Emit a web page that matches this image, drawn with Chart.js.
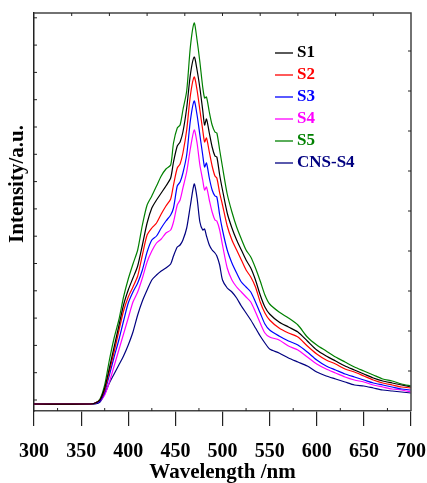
<!DOCTYPE html>
<html>
<head>
<meta charset="utf-8">
<script src="https://cdn.jsdelivr.net/npm/chart.js@4.4.1/dist/chart.umd.min.js"></script>
<style>
    html, body { margin: 0; padding: 0; background: #fff; }
    #wrap { width: 427px; height: 483px; }
</style>
</head>
<body>
<div id="wrap"><canvas id="pl" width="427" height="483"></canvas></div>
<script>
// Wavelength grid (nm)
const wavelength = [300, 360, 365, 370, 375, 380, 385, 390, 395, 400, 405, 410, 415, 420, 425, 430, 435, 440, 445, 448,
    452, 455, 458, 462, 466, 470, 473, 476, 479, 481, 483, 486, 489, 492, 494, 497, 500, 505, 510, 515,
    520, 525, 530, 535, 540, 545, 550, 560, 570, 580, 590, 600, 610, 620, 630, 640, 650, 660, 670, 680, 690, 700];

// PL intensity (a.u.)
const s1 = [7, 7, 8, 11, 23, 43, 64, 85, 106, 121, 133, 145, 166, 188, 203, 211, 218, 225, 233, 249,
    265, 269, 279, 303, 337, 354, 341, 323, 301, 286, 292, 278, 264, 255, 254, 236, 221, 198, 183, 171,
    161, 151, 143, 131, 116, 104, 97, 89, 84, 79, 70, 61, 55, 50, 45, 41, 37, 33, 30, 28, 26, 24];
const s2 = [7, 7, 8, 11, 21, 40, 59, 80, 100, 114, 124, 135, 156, 176, 183, 188, 197, 205, 212, 226,
    243, 247, 258, 281, 316, 334, 321, 301, 281, 269, 273, 259, 245, 235, 233, 218, 206, 185, 171, 161,
    151, 141, 134, 124, 109, 98, 91, 83, 78, 74, 65, 57, 51, 47, 42, 39, 35, 31, 28, 26, 24, 23];
const s3 = [7, 7, 8, 10, 19, 36, 54, 71, 90, 108, 119, 128, 141, 159, 171, 175, 183, 190, 196, 203,
    225, 229, 238, 256, 291, 310, 296, 276, 256, 244, 248, 233, 221, 215, 214, 196, 181, 161, 148, 138,
    129, 124, 119, 109, 98, 87, 81, 75, 70, 66, 59, 51, 45, 41, 37, 34, 31, 28, 26, 24, 22, 21];
const s4 = [7, 7, 8, 10, 16, 29, 45, 61, 77, 93, 109, 119, 133, 149, 160, 168, 172, 178, 181, 189,
    206, 211, 223, 239, 263, 281, 268, 246, 231, 221, 224, 211, 199, 191, 190, 181, 166, 143, 131, 124,
    119, 114, 109, 99, 88, 78, 74, 71, 65, 61, 54, 47, 42, 38, 34, 31, 29, 26, 24, 22, 21, 19];
const s5 = [7, 7, 8, 12, 26, 51, 73, 91, 114, 132, 147, 161, 186, 206, 215, 225, 235, 242, 246, 268,
    283, 286, 301, 320, 365, 388, 371, 349, 324, 313, 314, 299, 286, 279, 278, 261, 244, 217, 199, 184,
    172, 161, 154, 143, 130, 116, 107, 99, 93, 86, 74, 66, 60, 54, 49, 44, 40, 36, 32, 30, 27, 25];
const cnsS4 = [7, 7, 7, 9, 17, 28, 37, 46, 55, 66, 79, 96, 110, 121, 131, 136, 140, 143, 147, 155,
    164, 166, 171, 183, 206, 227, 213, 189, 181, 182, 175, 166, 161, 158, 155, 146, 131, 123, 119, 113,
    105, 98, 91, 83, 75, 68, 62, 58, 53, 49, 45, 39, 35, 32, 29, 26, 25, 23, 21, 20, 19, 18];

const seriesNames = ['S1', 'S2', 'S3', 'S4', 'S5', 'CNS-S4'];
const seriesValues = [s1, s2, s3, s4, s5, cnsS4];
const seriesColors = ['#000000', '#ff0000', '#0000ff', '#ff00ff', '#008000', '#000080'];

const xMin = 300, xMax = 700, xStep = 50;
const yMin = 0, yMax = 398;

const serif = '"Liberation Serif", "Times New Roman", serif';

// Frame, inward minor ticks, legend and y title
const decorations = {
    id: 'decorations',
    afterDraw(chart) {
        const { ctx, chartArea: a, scales: { x, y } } = chart;
        ctx.save();

        // Top and right border
        ctx.strokeStyle = '#444';
        ctx.lineWidth = 1.5;
        ctx.beginPath();
        ctx.moveTo(a.left, a.top);
        ctx.lineTo(a.right, a.top);
        ctx.lineTo(a.right, a.bottom);
        ctx.stroke();

        ctx.lineWidth = 1;
        ctx.strokeStyle = '#222';
        ctx.beginPath();
        // Minor ticks on bottom axis
        for (let v = xMin + xStep / 2; v < xMax; v += xStep) {
            const px = x.getPixelForValue(v);
            ctx.moveTo(px, a.bottom);
            ctx.lineTo(px, a.bottom - 3);
        }
        // Ticks on top border
        for (let v = xMin + 40; v < xMax; v += 40) {
            const px = x.getPixelForValue(v);
            ctx.moveTo(px, a.top);
            ctx.lineTo(px, a.top + 3);
        }
        // Ticks on left axis
        for (let v = 11; v < yMax; v += 27.3) {
            const py = y.getPixelForValue(v);
            ctx.moveTo(a.left, py);
            ctx.lineTo(a.left + 3, py);
        }
        // Ticks on right border
        for (let v = 40; v < yMax; v += 40) {
            const py = y.getPixelForValue(v);
            ctx.moveTo(a.right, py);
            ctx.lineTo(a.right - 3, py);
        }
        ctx.stroke();

        // Legend
        ctx.font = 'bold 17px ' + serif;
        ctx.textBaseline = 'middle';
        ctx.textAlign = 'left';
        chart.data.datasets.forEach((ds, i) => {
            const ly = 53 + 22 * i;
            ctx.strokeStyle = ds.borderColor;
            ctx.lineWidth = 1.3;
            ctx.beginPath();
            ctx.moveTo(275, ly);
            ctx.lineTo(293, ly);
            ctx.stroke();
            ctx.fillStyle = ds.borderColor;
            ctx.fillText(ds.label, 297, ly);
        });

        // Y axis title
        ctx.translate(18, 184);
        ctx.rotate(-Math.PI / 2);
        ctx.textAlign = 'center';
        ctx.fillStyle = '#000';
        ctx.font = 'bold 21px ' + serif;
        ctx.fillText('Intensity/a.u.', 0, 0);

        ctx.restore();
    }
};

new Chart(document.getElementById('pl').getContext('2d'), {
    type: 'line',
    data: {
        datasets: seriesNames.map((name, i) => ({
            label: name,
            data: wavelength.map((w, j) => ({ x: w, y: seriesValues[i][j] })),
            borderColor: seriesColors[i],
            borderWidth: 1.2,
            pointRadius: 0,
            tension: 0.25,
            fill: false
        }))
    },
    options: {
        responsive: false,
        animation: false,
        devicePixelRatio: 1,
        layout: { padding: { top: 13, right: 16, left: 0, bottom: 0 } },
        plugins: {
            legend: { display: false },
            tooltip: { enabled: false }
        },
        scales: {
            x: {
                type: 'linear',
                min: xMin,
                max: xMax,
                afterFit: scale => {
                    scale.height = 72;
                    scale.paddingLeft = 0;
                    scale.paddingRight = 0;
                },
                ticks: {
                    stepSize: xStep,
                    color: '#000',
                    padding: 14,
                    maxRotation: 0,
                    font: { family: serif, size: 20, weight: 'bold' }
                },
                grid: {
                    drawOnChartArea: false,
                    tickLength: 15,
                    color: '#222',
                    lineWidth: 1.2
                },
                border: { color: '#444', width: 1.5 },
                title: {
                    display: true,
                    text: 'Wavelength /nm',
                    color: '#000',
                    padding: { top: 0, bottom: 0 },
                    font: { family: serif, size: 21, weight: 'bold', lineHeight: 1 }
                }
            },
            y: {
                min: yMin,
                max: yMax,
                afterFit: scale => { scale.width = 34; },
                ticks: { display: false },
                grid: { display: false },
                border: { color: '#222', width: 1.5 }
            }
        }
    },
    plugins: [decorations]
});
</script>
</body>
</html>
